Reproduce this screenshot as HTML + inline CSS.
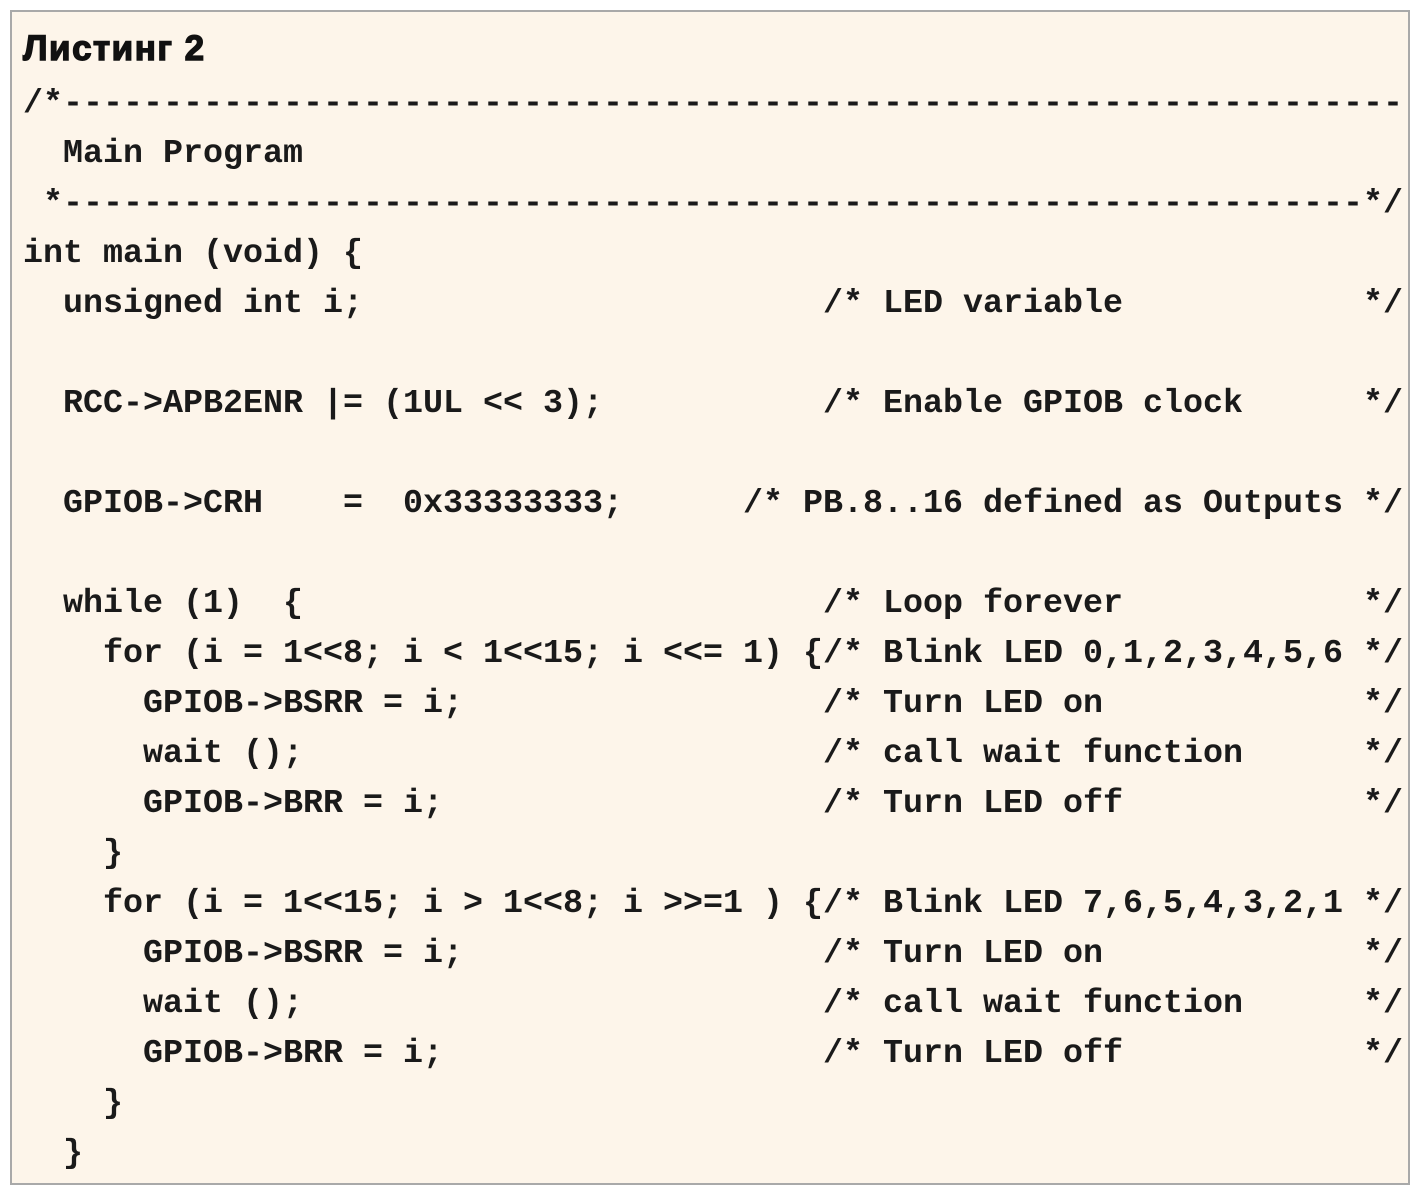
<!DOCTYPE html>
<html><head><meta charset="utf-8"><style>
html,body{margin:0;padding:0;background:#fff;}
.box{position:absolute;left:10px;top:10px;width:1400px;height:1175px;border:2px solid #a9a9a9;background:#fdf5ea;box-sizing:border-box;}
.t{position:absolute;left:23px;top:29px;font-family:"Liberation Sans","Noto Sans CJK SC",sans-serif;font-weight:bold;font-size:35px;color:#111;letter-spacing:1.5px;line-height:40px;-webkit-text-stroke:1.4px #111;}
pre{position:absolute;left:23px;top:79px;margin:0;font-family:"Liberation Mono",monospace;font-weight:bold;font-size:33.33px;line-height:50px;color:#1a1a1a;}
</style></head><body>
<div class="box"></div>
<div class="t">Листинг 2</div>
<pre>/*-------------------------------------------------------------------
  Main Program
 *-----------------------------------------------------------------*/
int main (void) {
  unsigned int i;                       /* LED variable            */

  RCC-&gt;APB2ENR |= (1UL &lt;&lt; 3);           /* Enable GPIOB clock      */

  GPIOB-&gt;CRH    =  0x33333333;      /* PB.8..16 defined as Outputs */

  while (1)  {                          /* Loop forever            */
    for (i = 1&lt;&lt;8; i &lt; 1&lt;&lt;15; i &lt;&lt;= 1) {/* Blink LED 0,1,2,3,4,5,6 */
      GPIOB-&gt;BSRR = i;                  /* Turn LED on             */
      wait ();                          /* call wait function      */
      GPIOB-&gt;BRR = i;                   /* Turn LED off            */
    }
    for (i = 1&lt;&lt;15; i &gt; 1&lt;&lt;8; i &gt;&gt;=1 ) {/* Blink LED 7,6,5,4,3,2,1 */
      GPIOB-&gt;BSRR = i;                  /* Turn LED on             */
      wait ();                          /* call wait function      */
      GPIOB-&gt;BRR = i;                   /* Turn LED off            */
    }
  }</pre>
</body></html>
